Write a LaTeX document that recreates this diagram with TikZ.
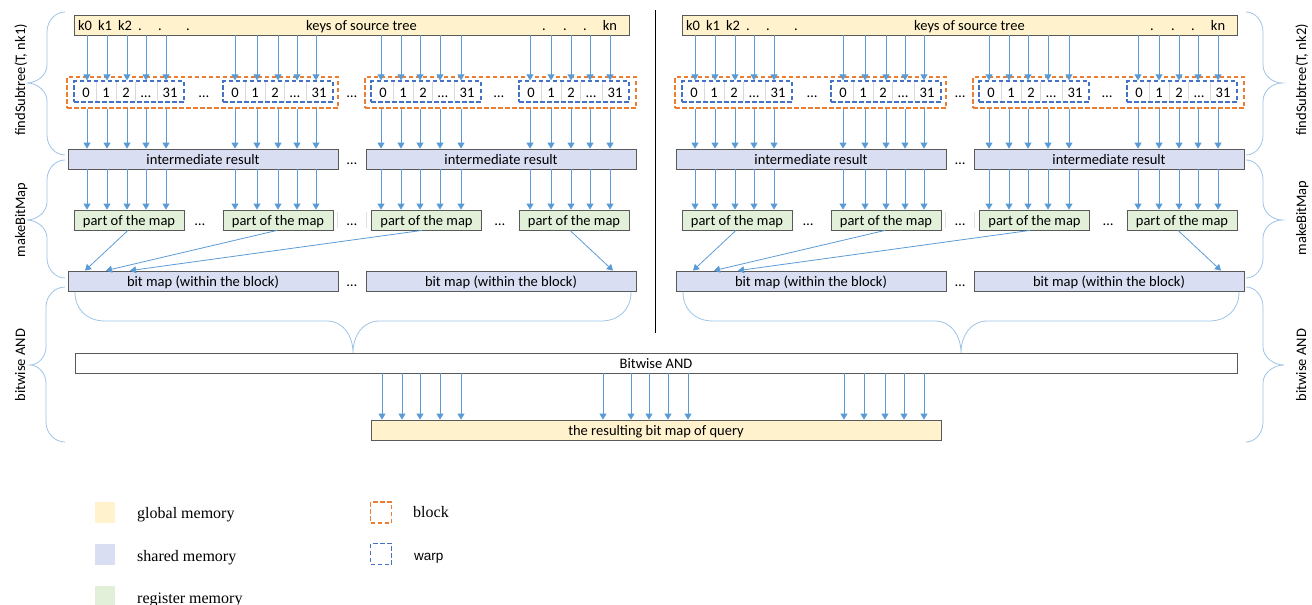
\documentclass[tikz,border=0pt]{standalone}
\usepackage{fontspec}
\setmainfont{Carlito}
\newfontfamily\legendserif{Liberation Serif}
\newfontfamily\legendsans{Liberation Sans}
\usetikzlibrary{arrows.meta}

\definecolor{globalfill}{HTML}{FFF2CC}
\definecolor{sharedfill}{HTML}{D9DEF2}
\definecolor{registerfill}{HTML}{E2F0D9}
\definecolor{boxline}{HTML}{595959}
\definecolor{flowblue}{HTML}{5B9BD5}
\definecolor{braceblue}{HTML}{9DC3E6}
\definecolor{blockorange}{HTML}{ED7D31}
\definecolor{warpblue}{HTML}{4472C4}
\definecolor{cellgray}{HTML}{D9D9D9}

\newcommand\diagfont{\fontsize{14.5}{17}\selectfont}

% vertical curly brace: end x, spine x, tip x, top y, tip y, bottom y
\newcommand\sidebrace[6]{%
  \draw[curlyline] (#1,#4) .. controls ({#2+0.45*(#1-#2)},#4) and (#2,{#4+9}) .. (#2,{#4+20})
    -- (#2,{#5-18}) .. controls (#2,{#5-8}) and ({#2+0.5*(#3-#2)},#5) .. (#3,#5)
    .. controls ({#2+0.5*(#3-#2)},#5) and (#2,{#5+8}) .. (#2,{#5+18})
    -- (#2,{#6-20}) .. controls (#2,{#6-9}) and ({#2+0.45*(#1-#2)},#6) .. (#1,#6);}

% horizontal curly brace opening upwards: left x, right x, end y, spine y, tip x, tip y
\newcommand\gatherbrace[6]{%
  \draw[curlyline] (#1,#3) .. controls (#1,{#3+0.6*(#4-#3)}) and ({#1+12},#4) .. ({#1+30},#4)
    -- ({#5-26},#4) .. controls ({#5-10},#4) and (#5,{#4+0.45*(#6-#4)}) .. (#5,#6)
    .. controls (#5,{#4+0.45*(#6-#4)}) and ({#5+10},#4) .. ({#5+26},#4)
    -- ({#2-30},#4) .. controls ({#2-12},#4) and (#2,{#3+0.6*(#4-#3)}) .. (#2,#3);}

\begin{document}
\begin{tikzpicture}[x=1pt,y=-1pt,
  membox/.style={draw=boxline, line width=0.8pt, inner sep=0pt, minimum height=20pt,
    text height=13pt, text depth=2pt, font=\diagfont},
  globalbox/.style={membox, fill=globalfill},
  sharedbox/.style={membox, fill=sharedfill},
  registerbox/.style={membox, fill=registerfill},
  blockbox/.style={draw=blockorange, line width=1.3pt, dash pattern=on 4.5pt off 2.5pt,
    inner sep=0pt, minimum width=271pt, minimum height=31pt},
  warpbox/.style={draw=warpblue, line width=1.3pt, dash pattern=on 4.5pt off 2.5pt,
    inner sep=0pt, minimum width=110pt, minimum height=21pt},
  cellsep/.style={draw=cellgray, line width=0.8pt},
  lbl/.style={font=\diagfont, inner sep=0pt, anchor=base},
  sidelabel/.style={font=\diagfont, inner sep=0pt, anchor=base, rotate=90},
  flowarrow/.style={draw=flowblue, line width=0.8pt, -{Triangle[width=7pt,length=6pt]}},
  curlyline/.style={draw=braceblue, line width=0.8pt},
  swatch/.style={inner sep=0pt, minimum width=20pt, minimum height=21pt},
  legtext/.style={font=\legendserif\fontsize{16}{18}\selectfont, inner sep=0pt, anchor=base west},
]
\useasboundingbox (0,0) rectangle (1312,605);

% the two query halves (nk1 on the left, nk2 on the right)
\foreach \s/\p in {0/L,608/R}{
\begin{scope}[xshift=\s pt]
  % keys of the source tree in global memory
  \node[globalbox, minimum width=555pt] (\p keys) at (351.5,25) {};
  \foreach \kx/\kt/\kn in {85/k0/a,105/k1/b,125/k2/c,140/./d,160/./e,188/./f,544/./g,565/./h,585/./i,610/kn/j}
    \node[lbl] (\p key\kn) at (\kx,30.5) {\kt};
  \node[lbl] (\p keytitle) at (361.5,30.5) {keys of source tree};

  % thread blocks and their warps
  \node[blockbox] (\p blk1) at (202.5,92.5) {};
  \node[blockbox] (\p blk2) at (500.5,92.5) {};
  \foreach \w/\cx in {1/129,2/278,3/426,4/574}{
    \node[warpbox] (\p w\w) at (\cx,91.5) {};
    \foreach \dx in {-33,-13,6,28}
      \draw[cellsep] ({\cx+\dx},82) -- ({\cx+\dx},101);
    \foreach \dx/\ct/\cn in {-43/0/a,-23/1/b,-3/2/c,17/…/d,41/31/e}
      \node[lbl] (\p w\w\cn) at ({\cx+\dx},97) {\ct};
  }
  \node[lbl] (\p gapwa) at (204,97) {…};
  \node[lbl] (\p gapblk) at (352,97) {…};
  \node[lbl] (\p gapwb) at (499,97) {…};

  % intermediate results in shared memory
  \node[sharedbox, minimum width=270pt] (\p ir1) at (203,159) {intermediate result};
  \node[sharedbox, minimum width=270pt] (\p ir2) at (501,159) {intermediate result};
  \node[lbl] (\p gapir) at (352,164.5) {…};

  % partial maps in registers
  \foreach \w/\cx in {1/129,2/278,3/426.5,4/574}
    \node[registerbox, minimum width=110pt] (\p pm\w) at (\cx,220) {part of the map};
  \node[lbl] (\p gappma) at (200,225.5) {…};
  \node[lbl] (\p gappmb) at (352,225.5) {…};
  \node[lbl] (\p gappmc) at (500,225.5) {…};
  \draw[cellsep, draw=cellgray!80] (337,212) -- (337,228);
  \draw[cellsep, draw=cellgray!80] (366,212) -- (366,228);

  % bit maps per block in shared memory
  \node[sharedbox, minimum width=270pt] (\p bm1) at (203,281) {bit map (within the block)};
  \node[sharedbox, minimum width=270pt] (\p bm2) at (501,281) {bit map (within the block)};
  \node[lbl] (\p gapbm) at (352,286.5) {…};

  % per-thread data flow
  \foreach \cx/\w/\b in {87/1/1,107/1/1,127/1/1,146/1/1,166/1/1,
                         235/2/1,257/2/1,278/2/1,297/2/1,316/2/1,
                         381/3/2,401/3/2,420/3/2,440/3/2,461/3/2,
                         530/4/2,551/4/2,571/4/2,590/4/2,610/4/2}{
    \draw[flowarrow] (\cx,0 |- \p keys.south) -- (\cx,0 |- \p w\w.north);
    \draw[flowarrow] (\cx,0 |- \p blk\b.south) -- (\cx,0 |- \p ir\b.north);
    \draw[flowarrow] (\cx,0 |- \p ir\b.south) -- (\cx,0 |- \p pm\w.north);
  }
  \draw[flowarrow] (128,0 |- \p pm1.south) -- (85,0 |- \p bm1.north);
  \draw[flowarrow] (277,0 |- \p pm2.south) -- (106,0 |- \p bm1.north);
  \draw[flowarrow] (422,0 |- \p pm3.south) -- (130,0 |- \p bm1.north);
  \draw[flowarrow] (570,0 |- \p pm4.south) -- (613,0 |- \p bm2.north);

  % bit maps gathered into the AND stage
  \gatherbrace{75}{631}{292}{321}{353}{353}
\end{scope}
}

% divider between the two halves
\draw[line width=1pt] (655,10) -- (655,333);

% combining stage
\node[membox, fill=white, minimum width=1162pt] (andbar) at (656,363) {Bitwise AND};
\node[globalbox, minimum width=570pt] (result) at (656,430) {the resulting bit map of query};
\foreach \cx in {382,402,420,440,461,603,631,649,668,688,844,864,885,904,924}
  \draw[flowarrow] (\cx,0 |- andbar.south) -- (\cx,0 |- result.north);

% phase braces and labels
\sidebrace{65}{47}{27}{12}{83}{155}
\sidebrace{65}{47}{27}{160}{220}{278}
\sidebrace{65}{46}{30}{287}{365}{442}
\sidebrace{1246}{1263}{1282}{12}{83}{155}
\sidebrace{1246}{1263}{1282}{160}{220}{278}
\sidebrace{1246}{1263}{1284}{287}{365}{442}
\node[sidelabel] (phaseFindL) at (25,80) {findSubtree(T, nk1)};
\node[sidelabel] (phaseMapL) at (25,220) {makeBitMap};
\node[sidelabel] (phaseAndL) at (25,365) {bitwise AND};
\node[sidelabel] (phaseFindR) at (1306,80) {findSubtree(T, nk2)};
\node[sidelabel] (phaseMapR) at (1306,218) {makeBitMap};
\node[sidelabel] (phaseAndR) at (1306,365) {bitwise AND};

% legend
\node[swatch, fill=globalfill] (lgGlobal) at (105,512.5) {};
\node[swatch, fill=sharedfill] (lgShared) at (105,554.5) {};
\node[swatch, fill=registerfill, minimum height=19pt] (lgRegister) at (105,595.5) {};
\node[legtext] (lgGlobalTxt) at (137,518) {global memory};
\node[legtext] (lgSharedTxt) at (137,561) {shared memory};
\node[legtext] (lgRegisterTxt) at (137,603) {register memory};
\node[blockbox, minimum width=21pt, minimum height=21pt, line width=1.1pt] (lgBlock) at (381,512.5) {};
\node[warpbox, minimum width=21pt, minimum height=21pt, line width=1.1pt] (lgWarp) at (381,554) {};
\node[legtext] (lgBlockTxt) at (413,517) {block};
\node[legtext, font=\legendsans\fontsize{13.5}{16}\selectfont] (lgWarpTxt) at (414,560) {warp};
\end{tikzpicture}
\end{document}
